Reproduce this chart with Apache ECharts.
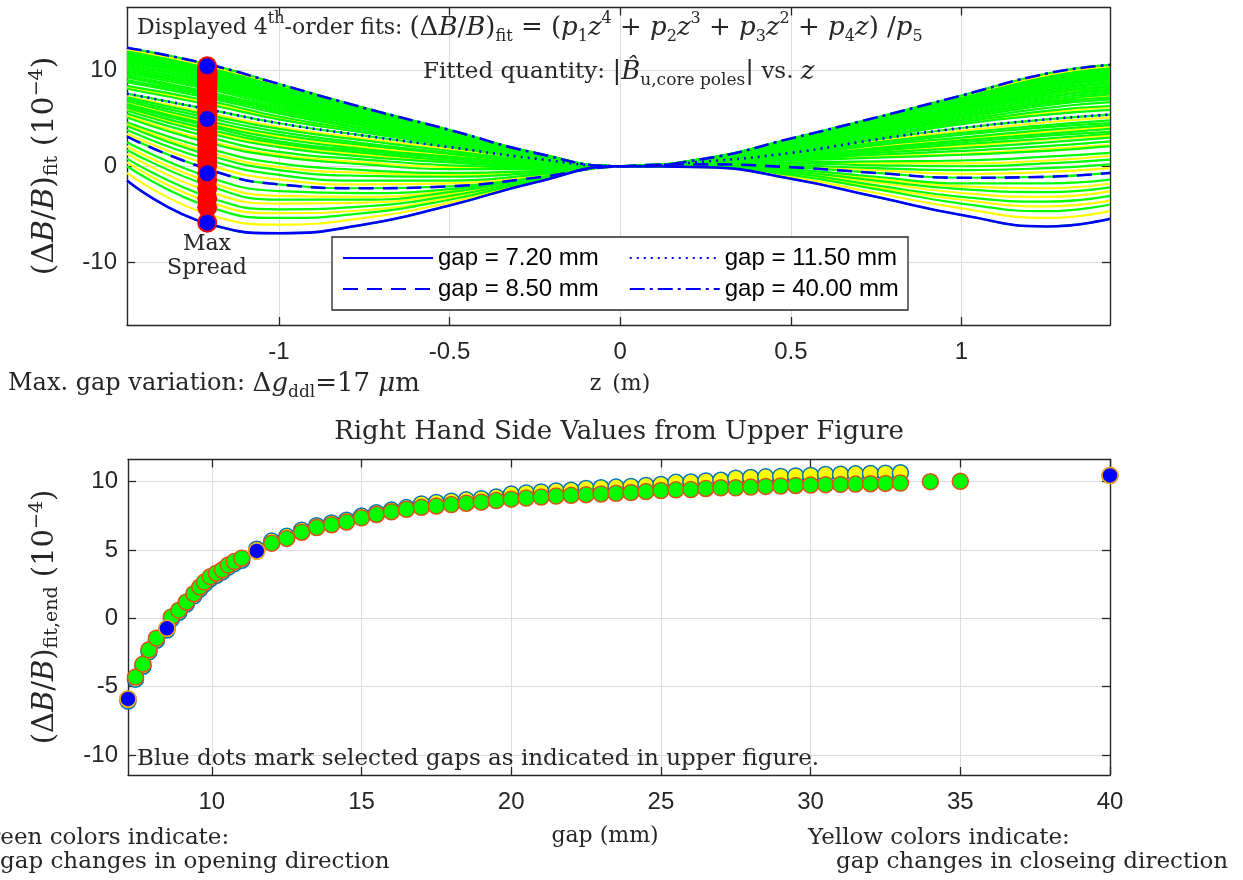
<!DOCTYPE html>
<html><head><meta charset="utf-8">
<script src="https://cdn.jsdelivr.net/npm/echarts@6/dist/echarts.min.js"></script>
<style>html,body{margin:0;padding:0;background:#fff}#c{width:1243px;height:880px}</style>
</head><body><div id="c"></div>
<script>
// ---------------- data ----------------
// z positions (m) at which each fitted curve was read off the upper figure
const zNodes = [-1.445, -1.2, -1.0, -0.75, -0.5, -0.25, 0, 0.25, 0.5, 0.75, 1.0, 1.25, 1.435];

// highlighted (blue) fits
const curveGap720  = [-1.5, -6.1, -7.0, -6.1, -4.1, -1.7, 0, -0.1, -1.3, -3.2, -5.1, -6.3, -5.5];
const curveGap850  = [3.1, -0.4, -1.9, -2.3, -2.1, -1.2, 0, 0.2, -0.1, -0.7, -1.2, -1.1, -0.7];
const curveGap1150 = [7.6, 5.9, 4.5, 3.2, 2.0, 0.8, 0, 0.5, 1.4, 2.8, 4.0, 4.9, 5.4];
const curveGap4000 = [12.4, 10.6, 8.6, 6.1, 3.8, 1.4, 0, 0.8, 2.9, 5.1, 7.4, 9.7, 10.6];

// green fits (opening direction)
const greenCurveGaps = [7.2, 7.45, 7.7, 7.9, 8.15, 8.5, 8.65, 8.9, 9.15, 9.4, 9.6, 9.75, 9.95, 10.15, 10.35, 10.55, 10.75, 11.0, 11.5,
  12, 12.5, 13, 13.5, 14, 14.5, 15, 15.5, 16, 16.5, 17, 18, 19, 20, 21, 22, 23, 24, 25, 26, 27, 28, 29, 30, 31.5, 33, 34, 35, 40];
const greenCurves = [
  [-1.5, -6.1, -7.0, -6.1, -4.1, -1.7, 0, -0.1, -1.3, -3.2, -5.1, -6.3, -5.5],
  [0.0, -4.3, -5.4, -4.9, -3.5, -1.5, 0, 0.0, -0.9, -2.4, -3.9, -4.7, -4.0],
  [0.8, -3.3, -4.5, -4.2, -3.1, -1.4, 0, 0.0, -0.7, -2.0, -3.2, -3.7, -3.1],
  [1.7, -2.1, -3.5, -3.5, -2.7, -1.3, 0, 0.1, -0.5, -1.5, -2.4, -2.7, -2.2],
  [2.5, -1.2, -2.6, -2.8, -2.4, -1.3, 0, 0.2, -0.3, -1.1, -1.8, -1.8, -1.4],
  [3.1, -0.4, -1.9, -2.3, -2.1, -1.2, 0, 0.2, -0.1, -0.7, -1.2, -1.1, -0.7],
  [3.8, 0.6, -0.9, -1.5, -1.5, -0.9, 0, 0.2, 0.1, -0.2, -0.4, -0.2, 0.2],
  [4.2, 1.1, -0.4, -1.0, -1.1, -0.7, 0, 0.3, 0.3, 0.1, 0.0, 0.3, 0.7],
  [4.6, 1.8, 0.3, -0.4, -0.7, -0.5, 0, 0.3, 0.4, 0.5, 0.6, 1.0, 1.4],
  [5.1, 2.4, 1.0, 0.2, -0.3, -0.3, 0, 0.3, 0.6, 0.9, 1.2, 1.6, 2.1],
  [5.5, 3.0, 1.5, 0.7, 0.1, -0.1, 0, 0.4, 0.7, 1.2, 1.6, 2.1, 2.6],
  [5.8, 3.4, 2.0, 1.0, 0.4, 0.0, 0, 0.4, 0.8, 1.4, 1.9, 2.5, 3.0],
  [6.1, 3.8, 2.4, 1.4, 0.6, 0.1, 0, 0.4, 0.9, 1.6, 2.3, 2.9, 3.4],
  [6.3, 4.1, 2.6, 1.6, 0.8, 0.2, 0, 0.4, 1.0, 1.8, 2.5, 3.2, 3.6],
  [6.5, 4.3, 2.9, 1.8, 1.0, 0.3, 0, 0.4, 1.0, 1.9, 2.7, 3.4, 3.9],
  [6.8, 4.7, 3.3, 2.2, 1.3, 0.4, 0, 0.4, 1.1, 2.2, 3.0, 3.8, 4.3],
  [7.0, 5.0, 3.6, 2.4, 1.4, 0.5, 0, 0.5, 1.2, 2.3, 3.3, 4.1, 4.5],
  [7.2, 5.3, 3.9, 2.7, 1.6, 0.6, 0, 0.5, 1.3, 2.5, 3.5, 4.3, 4.8],
  [7.6, 5.9, 4.5, 3.2, 2.0, 0.8, 0, 0.5, 1.4, 2.8, 4.0, 4.9, 5.4],
  [8.1, 6.4, 4.9, 3.5, 2.2, 0.9, 0, 0.5, 1.6, 3.0, 4.4, 5.4, 5.9],
  [8.4, 6.8, 5.2, 3.7, 2.3, 0.9, 0, 0.5, 1.7, 3.2, 4.6, 5.8, 6.3],
  [8.8, 7.1, 5.5, 3.9, 2.5, 1.0, 0, 0.6, 1.8, 3.4, 4.8, 6.1, 6.7],
  [9.0, 7.3, 5.7, 4.0, 2.5, 1.0, 0, 0.6, 1.9, 3.5, 5.0, 6.4, 7.0],
  [9.3, 7.5, 5.9, 4.2, 2.6, 1.0, 0, 0.6, 1.9, 3.6, 5.2, 6.6, 7.2],
  [9.5, 7.7, 6.1, 4.3, 2.7, 1.0, 0, 0.6, 2.0, 3.7, 5.3, 6.8, 7.5],
  [9.7, 8.0, 6.3, 4.5, 2.8, 1.1, 0, 0.6, 2.1, 3.8, 5.5, 7.0, 7.7],
  [9.9, 8.2, 6.5, 4.6, 2.9, 1.1, 0, 0.7, 2.2, 3.9, 5.7, 7.2, 7.9],
  [10.1, 8.3, 6.6, 4.7, 2.9, 1.1, 0, 0.7, 2.2, 4.0, 5.8, 7.4, 8.1],
  [10.3, 8.5, 6.8, 4.8, 3.0, 1.2, 0, 0.7, 2.3, 4.1, 5.9, 7.6, 8.3],
  [10.4, 8.6, 6.9, 4.9, 3.0, 1.2, 0, 0.7, 2.3, 4.1, 6.0, 7.7, 8.4],
  [10.6, 8.8, 7.0, 5.0, 3.1, 1.2, 0, 0.7, 2.3, 4.2, 6.1, 7.9, 8.6],
  [10.7, 8.9, 7.2, 5.1, 3.2, 1.2, 0, 0.7, 2.4, 4.3, 6.2, 8.0, 8.8],
  [10.9, 9.1, 7.3, 5.2, 3.2, 1.2, 0, 0.7, 2.4, 4.4, 6.3, 8.2, 9.0],
  [11.0, 9.3, 7.4, 5.3, 3.3, 1.2, 0, 0.7, 2.5, 4.5, 6.4, 8.3, 9.1],
  [11.1, 9.4, 7.5, 5.3, 3.3, 1.2, 0, 0.7, 2.5, 4.5, 6.5, 8.4, 9.2],
  [11.2, 9.5, 7.6, 5.4, 3.4, 1.3, 0, 0.7, 2.6, 4.6, 6.6, 8.5, 9.3],
  [11.3, 9.5, 7.7, 5.4, 3.4, 1.3, 0, 0.7, 2.6, 4.6, 6.6, 8.6, 9.4],
  [11.4, 9.6, 7.8, 5.5, 3.5, 1.3, 0, 0.7, 2.6, 4.7, 6.7, 8.7, 9.5],
  [11.5, 9.7, 7.8, 5.6, 3.5, 1.3, 0, 0.7, 2.6, 4.7, 6.8, 8.8, 9.6],
  [11.6, 9.8, 7.9, 5.6, 3.5, 1.3, 0, 0.8, 2.7, 4.7, 6.9, 8.9, 9.7],
  [11.6, 9.9, 8.0, 5.6, 3.5, 1.3, 0, 0.8, 2.7, 4.7, 6.9, 8.9, 9.8],
  [11.7, 10.0, 8.1, 5.7, 3.6, 1.3, 0, 0.8, 2.7, 4.8, 7.0, 9.0, 9.9],
  [11.8, 10.0, 8.1, 5.7, 3.6, 1.3, 0, 0.8, 2.7, 4.8, 7.0, 9.1, 9.9],
  [11.9, 10.1, 8.2, 5.8, 3.6, 1.3, 0, 0.8, 2.8, 4.9, 7.1, 9.2, 10.0],
  [11.9, 10.1, 8.2, 5.8, 3.6, 1.3, 0, 0.8, 2.8, 4.9, 7.1, 9.2, 10.1],
  [12.0, 10.2, 8.3, 5.9, 3.7, 1.4, 0, 0.8, 2.8, 4.9, 7.1, 9.3, 10.2],
  [12.0, 10.2, 8.3, 5.9, 3.7, 1.4, 0, 0.8, 2.8, 4.9, 7.1, 9.3, 10.2],
  [12.4, 10.6, 8.6, 6.1, 3.8, 1.4, 0, 0.8, 2.9, 5.1, 7.4, 9.7, 10.6]
];

// yellow fits (closing direction)
const yellowCurveGaps = [7.3, 7.6, 7.8, 8.0, 8.6, 8.8, 9.3, 9.7, 10.0, 10.65, 12.5, 14.5, 17.5, 21, 25, 30];
const yellowCurves = [
  [-0.7, -5.1, -6.1, -5.4, -3.8, -1.6, 0, -0.1, -1.1, -2.8, -4.4, -5.4, -4.7],
  [0.4, -3.8, -4.9, -4.6, -3.3, -1.5, 0, 0.0, -0.8, -2.2, -3.5, -4.2, -3.6],
  [1.3, -2.7, -3.9, -3.8, -2.9, -1.4, 0, 0.1, -0.6, -1.7, -2.8, -3.2, -2.6],
  [2.1, -1.7, -3.1, -3.2, -2.6, -1.3, 0, 0.1, -0.4, -1.3, -2.1, -2.3, -1.8],
  [3.4, 0.1, -1.4, -1.9, -1.8, -1.1, 0, 0.2, 0.0, -0.4, -0.8, -0.6, -0.2],
  [4.4, 1.4, -0.1, -0.7, -0.9, -0.6, 0, 0.3, 0.3, 0.3, 0.3, 0.6, 1.1],
  [5.3, 2.6, 1.2, 0.4, -0.1, -0.2, 0, 0.3, 0.6, 1.0, 1.3, 1.8, 2.2],
  [6.0, 3.6, 2.2, 1.2, 0.5, 0.1, 0, 0.4, 0.9, 1.5, 2.1, 2.8, 3.2],
  [6.6, 4.5, 3.1, 2.0, 1.1, 0.4, 0, 0.4, 1.1, 2.0, 2.9, 3.6, 4.1],
  [7.3, 5.5, 4.1, 2.9, 1.8, 0.7, 0, 0.5, 1.3, 2.6, 3.7, 4.6, 5.1],
  [8.3, 6.6, 5.1, 3.6, 2.3, 0.9, 0, 0.6, 1.7, 3.1, 4.5, 5.6, 6.2],
  [9.4, 7.6, 6.0, 4.3, 2.7, 1.0, 0, 0.6, 2.0, 3.7, 5.2, 6.7, 7.3],
  [10.2, 8.4, 6.7, 4.8, 3.0, 1.1, 0, 0.7, 2.2, 4.1, 5.9, 7.5, 8.2],
  [11.0, 9.2, 7.4, 5.2, 3.3, 1.2, 0, 0.7, 2.4, 4.4, 6.4, 8.3, 9.0],
  [11.7, 9.9, 8.0, 5.7, 3.5, 1.3, 0, 0.8, 2.7, 4.7, 6.9, 9.0, 9.8],
  [12.2, 10.4, 8.4, 6.0, 3.7, 1.4, 0, 0.8, 2.8, 5.0, 7.3, 9.5, 10.4]
];

// lower figure: right-hand-side values vs gap
const gapsGreen = [7.2, 7.45, 7.7, 7.9, 8.15, 8.5, 8.65, 8.9, 9.15, 9.4, 9.6, 9.75, 9.95, 10.15, 10.35, 10.55, 10.75, 11.0, 11.5,
  12, 12.5, 13, 13.5, 14, 14.5, 15, 15.5, 16, 16.5, 17, 17.5, 18, 18.5, 19, 19.5, 20, 20.5, 21, 21.5, 22, 22.5, 23, 23.5, 24, 24.5,
  25, 25.5, 26, 26.5, 27, 27.5, 28, 28.5, 29, 29.5, 30, 30.5, 31, 31.5, 32, 32.5, 33, 34, 35, 40];
const rhsGreen = [-5.9, -4.3, -3.35, -2.3, -1.45, -0.73, 0.1, 0.6, 1.2, 1.8, 2.3, 2.65, 3.05, 3.3, 3.55, 3.9, 4.15, 4.4, 4.93,
  5.5, 5.85, 6.3, 6.65, 6.85, 7.05, 7.35, 7.6, 7.8, 7.98, 8.12, 8.22, 8.32, 8.42, 8.5, 8.62, 8.72, 8.8, 8.88, 8.95, 9.0, 9.05, 9.1, 9.15, 9.2, 9.27,
  9.35, 9.4, 9.42, 9.5, 9.55, 9.55, 9.6, 9.65, 9.68, 9.72, 9.75, 9.78, 9.8, 9.82, 9.85, 9.87, 9.9, 10.0, 10.02, 10.45];
const gapsYellow = [7.2, 7.45, 7.7, 7.9, 8.15, 8.5, 8.65, 8.9, 9.15, 9.4, 9.6, 9.75, 9.95, 10.15, 10.35, 10.55, 10.75, 11.0, 11.5,
  12, 12.5, 13, 13.5, 14, 14.5, 15, 15.5, 16, 16.5, 17, 17.5, 18, 18.5, 19, 19.5, 20, 20.5, 21, 21.5, 22, 22.5, 23, 23.5, 24, 24.5,
  25, 25.5, 26, 26.5, 27, 27.5, 28, 28.5, 29, 29.5, 30, 30.5, 31, 31.5, 32, 32.5, 33];
const rhsYellow = [-6.05, -4.45, -3.5, -2.45, -1.6, -0.85, -0.05, 0.45, 1.05, 1.65, 2.15, 2.5, 2.9, 3.15, 3.4, 3.75, 4.0, 4.25, 5.05,
  5.65, 6.0, 6.45, 6.78, 6.98, 7.18, 7.48, 7.72, 7.92, 8.1, 8.37, 8.47, 8.57, 8.67, 8.75, 8.87, 9.09, 9.17, 9.25, 9.32, 9.37, 9.5, 9.55, 9.6, 9.65, 9.72,
  9.8, 9.95, 9.97, 10.05, 10.1, 10.25, 10.3, 10.35, 10.38, 10.42, 10.45, 10.53, 10.55, 10.57, 10.6, 10.62, 10.65];
const selectedGaps = [7.2, 8.5, 11.5, 40];
const selectedNames = ['gap = 7.20 mm', 'gap = 8.50 mm', 'gap = 11.50 mm', 'gap = 40.00 mm'];

const zTicks = [-1, -0.5, 0, 0.5, 1];
const dbTicksUpper = [-10, 0, 10];
const gapTicks = [10, 15, 20, 25, 30, 35, 40];
const dbTicksLower = [-10, -5, 0, 5, 10];
const spreadZ = -1.21;

// ---------------- styles ----------------
const SERIF = "'DejaVu Serif', serif";
const SANS = "'Liberation Sans', Arial, sans-serif";
const INK = '#262626';
const GREEN = '#00ff00', YELLOW = '#ffff00', BLUE = '#0000ff', RED = '#ff0000';

const chart = echarts.init(document.getElementById('c'), null, {renderer: 'canvas'});

function mkAxis(dim, grid, pos, min, max, ticks, labels) {
  return {
    type: 'value', gridIndex: grid, position: pos, min: min, max: max,
    axisLine: {show: true, onZero: false, lineStyle: {color: INK, width: 1.4}},
    axisTick: {show: true, inside: true, length: 8, customValues: ticks, lineStyle: {color: INK, width: 1.3}},
    axisLabel: {show: labels, customValues: ticks, fontSize: 24, fontFamily: SANS, color: INK,
      margin: dim === 'x' ? 15 : 10},
    splitLine: {show: labels, lineStyle: {color: '#dcdcdc', width: 1}}
  };
}

const pts = row => zNodes.map((z, i) => [z, row[i]]);
const series = [];
function fitLine(row, color, width, extra) {
  return Object.assign({
    type: 'line', xAxisIndex: 0, yAxisIndex: 0, data: pts(row), smooth: true, z: 3,
    symbol: 'none', silent: true, lineStyle: {color: color, width: width}
  }, extra || {});
}
yellowCurves.forEach(r => series.push(fitLine(r, YELLOW, 2.2)));
greenCurves.forEach(r => series.push(fitLine(r, GREEN, 2.2)));
const blueCurves = [curveGap720, curveGap850, curveGap1150, curveGap4000];
const blueTypes = ['solid', [15, 9], [2, 5], [15, 5, 3, 5]];
blueCurves.forEach((r, k) => series.push(fitLine(r, BLUE, 2.6, {
  name: selectedNames[k], z: 4, lineStyle: {color: BLUE, width: 2.6, type: blueTypes[k]}, itemStyle: {color: BLUE}
})));

const selectedVals = selectedGaps.map(g => rhsGreen[gapsGreen.indexOf(g)]);
series.push({type: 'scatter', xAxisIndex: 0, yAxisIndex: 0, silent: true, symbolSize: 20, z: 6,
  data: rhsGreen.map(v => [spreadZ, v]), itemStyle: {color: RED, opacity: 1}});
series.push({type: 'scatter', xAxisIndex: 0, yAxisIndex: 0, silent: true, symbolSize: 16, z: 7,
  data: selectedVals.map(v => [spreadZ, v]), itemStyle: {color: BLUE, opacity: 1}});

// lower figure
series.push({type: 'scatter', xAxisIndex: 2, yAxisIndex: 2, silent: true, symbolSize: 16, z: 5,
  data: gapsYellow.map((g, i) => [g, rhsYellow[i]]),
  itemStyle: {color: YELLOW, borderColor: '#0072bd', borderWidth: 1.5, opacity: 1}});
series.push({type: 'scatter', xAxisIndex: 2, yAxisIndex: 2, silent: true, symbolSize: 16, z: 6,
  data: gapsGreen.map((g, i) => [g, rhsGreen[i]]),
  itemStyle: {color: GREEN, borderColor: '#d95319', borderWidth: 1.5, opacity: 1}});
series.push({type: 'scatter', xAxisIndex: 2, yAxisIndex: 2, silent: true, symbolSize: 16, z: 7,
  data: selectedGaps.map((g, i) => [g, selectedVals[i]]),
  itemStyle: {color: BLUE, borderColor: '#edb120', borderWidth: 1.5, opacity: 1}});

// ---------------- text ----------------
function rich(ms, ss) {
  return {
    i: {fontFamily: SERIF, fontStyle: 'italic', fontSize: ms, lineHeight: 34, fill: INK},
    m: {fontFamily: SERIF, fontSize: ms, lineHeight: 34, fill: INK},
    sub: {fontFamily: SERIF, fontSize: ss, lineHeight: ss + 1, verticalAlign: 'bottom', fill: INK},
    sup: {fontFamily: SERIF, fontSize: ss, lineHeight: ss + 1, verticalAlign: 'top', fill: INK}
  };
}
function txt(x, y, text, o) {
  const fs = o.fs, ms = o.ms || fs, ss = o.ss || Math.round(fs * 0.64);
  return {type: 'text', x: x, y: y, rotation: o.rot || 0, z: 50, silent: true,
    style: {text: text, fontFamily: SERIF, fontSize: fs, fill: INK, align: o.align || 'left',
      verticalAlign: 'middle', lineHeight: 34, rich: rich(ms, ss)}};
}

const graphics = [
  {type: 'rect', z: 40, silent: true, shape: {x: 332, y: 237, width: 576, height: 73},
    style: {fill: '#fff', stroke: INK, lineWidth: 1.3}},
  txt(137, 28, 'Displayed 4{sup|th}-order fits: {m|(Δ}{i|B}{m|/}{i|B}{m|)}{sub|fit}{m| = (}{i|p}{sub|1}{i|z}{sup|4}{m| + }{i|p}{sub|2}{i|z}{sup|3}{m| + }{i|p}{sub|3}{i|z}{sup|2}{m| + }{i|p}{sub|4}{i|z}{m|) /}{i|p}{sub|5}',
    {fs: 22, ms: 26, ss: 16}),
  txt(423, 72, 'Fitted quantity: {m||}{i|B̂}{sub|u,core poles}{m||} vs. {i|z}', {fs: 23, ms: 26, ss: 17}),
  txt(207, 244, 'Max', {fs: 22, align: 'center'}),
  txt(207, 268, 'Spread', {fs: 22, align: 'center'}),
  txt(45, 166, '{m|(Δ}{i|B}{m|/}{i|B}{m|)}{sub|fit}{m| (10}{sup|−4}{m|)}', {fs: 30, ss: 19, align: 'center', rot: Math.PI / 2}),
  txt(8, 384, 'Max. gap variation: {m|Δ}{i|g}{sub|ddl}{m|=17 }{i|μ}{m|m}', {fs: 24, ms: 26, ss: 17}),
  txt(620, 384, 'z\u2002(m)', {fs: 22, align: 'center'}),
  txt(619, 432, 'Right Hand Side Values from Upper Figure', {fs: 26, align: 'center'}),
  txt(45, 617, '{m|(Δ}{i|B}{m|/}{i|B}{m|)}{sub|fit,end}{m| (10}{sup|−4}{m|)}', {fs: 29, ss: 19, align: 'center', rot: Math.PI / 2}),
  txt(137, 759, 'Blue dots mark selected gaps as indicated in upper figure.', {fs: 23}),
  txt(605, 836, 'gap (mm)', {fs: 22, align: 'center'}),
  txt(-29, 838, 'Green colors indicate:', {fs: 23}),
  txt(0, 862, 'gap changes in opening direction', {fs: 23}),
  txt(808, 838, 'Yellow colors indicate:', {fs: 23}),
  txt(836, 862, 'gap changes in closeing direction', {fs: 23})
];

const legendBase = {left: 342, padding: 0, itemWidth: 90, itemHeight: 14, itemGap: 30, z: 45,
  selectedMode: false, textStyle: {fontSize: 24, fontFamily: SANS, color: '#000'},
  itemStyle: {color: 'rgba(0,0,0,0)', borderColor: 'rgba(0,0,0,0)', borderWidth: 0}};

const option = {
  animation: false,
  backgroundColor: '#fff',
  grid: [
    {left: 127, top: 7.5, width: 983, height: 317.5},
    {left: 128, top: 459.5, width: 982, height: 315.5}
  ],
  xAxis: [
    mkAxis('x', 0, 'bottom', -1.445, 1.435, zTicks, true),
    mkAxis('x', 0, 'top', -1.445, 1.435, zTicks, false),
    mkAxis('x', 1, 'bottom', 7.2, 40, gapTicks, true),
    mkAxis('x', 1, 'top', 7.2, 40, gapTicks, false)
  ],
  yAxis: [
    mkAxis('y', 0, 'left', -16.6, 16.6, dbTicksUpper, true),
    mkAxis('y', 0, 'right', -16.6, 16.6, dbTicksUpper, false),
    mkAxis('y', 1, 'left', -11.46, 11.62, dbTicksLower, true),
    mkAxis('y', 1, 'right', -11.46, 11.62, dbTicksLower, false)
  ],
  legend: [
    Object.assign({top: 246, data: [selectedNames[0], selectedNames[2]]}, legendBase),
    Object.assign({top: 277, data: [selectedNames[1], selectedNames[3]]}, legendBase)
  ],
  graphic: {elements: graphics},
  series: series
};
chart.setOption(option);
</script>
</body></html>
